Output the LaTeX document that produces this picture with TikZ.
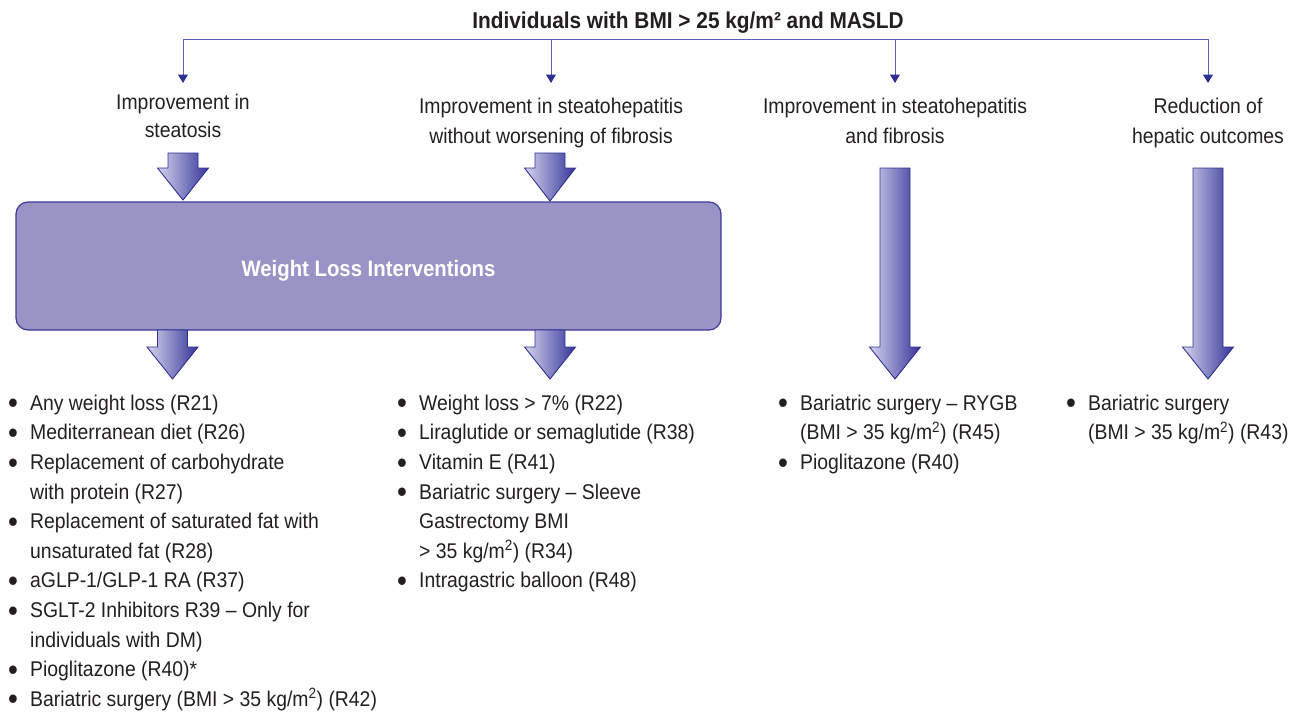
\documentclass[tikz,border=0pt]{standalone}
\usepackage{fontspec}
\setmainfont{Liberation Sans}[FakeStretch=0.91]
\usetikzlibrary{arrows.meta}
\definecolor{txt}{HTML}{231F20}
\definecolor{boxfill}{HTML}{9A94C6}
\definecolor{boxline}{HTML}{3C3C96}
\definecolor{linec}{HTML}{5D5DB3}
\definecolor{tipc}{HTML}{2E3192}
\definecolor{arrl}{HTML}{D6D4EC}
\definecolor{arrd}{HTML}{34349A}
\newlength\bulw \setlength\bulw{22.15pt}
\newcommand\bi{\par\noindent\hangindent=\bulw\hangafter=1\makebox[\bulw][l]{\raisebox{-3.6pt}{\fontsize{31}{31}\selectfont\textbullet}}}
\newcommand\nl{\break}
\newenvironment{blist}[1]{\begin{minipage}[t]{#1}\raggedright\fontsize{21.3}{29.6}\selectfont}{\end{minipage}}
\newcommand\blkarrow[4]{% cx, top, neck, tip
  \shadedraw[blk] (#1-15,#2) -- (#1+15,#2) -- (#1+15,#3) -- (#1+25.5,#3) -- (#1,#4)
    -- (#1-25.5,#3) -- (#1-15,#3) -- cycle;}
\tikzset{
  head/.style={text=txt, inner sep=0pt, align=center, font=\fontsize{21.3}{30}\selectfont},
  lst/.style={text=txt, inner sep=0pt, anchor=base west},
  blk/.style={draw=tipc, line width=0.9pt, left color=arrl, right color=arrd, line join=miter},
  conn/.style={draw=linec, line width=1pt},
  tipped/.style={conn, -{Triangle[width=10pt,length=8.5pt,color=tipc]}},
}
\begin{document}
\begin{tikzpicture}[x=1pt,y=-1pt]
\useasboundingbox (0,0) rectangle (1304,712);
% title
\node[font=\bfseries\fontsize{22.9}{27}\selectfont, text=txt, anchor=base, inner sep=0pt] (title) at (688,28) {Individuals with BMI > 25 kg/m² and MASLD};
% bracket
\coordinate (b1) at (183,39);
\coordinate (b2) at (551,39);
\coordinate (b3) at (895,39);
\coordinate (b4) at (1208,39);
\coordinate (t1) at (183,83);
\coordinate (t2) at (551,83);
\coordinate (t3) at (895,83);
\coordinate (t4) at (1208,83);
\draw[conn] (b1) -- (b4);
\draw[tipped] (b1) -- (t1);
\draw[tipped] (b2) -- (t2);
\draw[tipped] (b3) -- (t3);
\draw[tipped] (b4) -- (t4);
% headers (anchor base = last line baseline)
\node[head, anchor=base, font=\fontsize{21.3}{28}\selectfont] (h1) at (183,137) {Improvement in\\steatosis};
\node[head, anchor=base] (h2) at (551,143) {Improvement in steatohepatitis\\without worsening of fibrosis};
\node[head, anchor=base] (h3) at (895,143) {Improvement in steatohepatitis\\and fibrosis};
\node[head, anchor=base] (h4) at (1208,143) {Reduction of\\hepatic outcomes};
% box
\node[draw=boxline, fill=boxfill, line width=1.2pt, rounded corners=12pt,
      minimum width=705pt, minimum height=128pt, inner sep=0pt,
      text height=21.4pt, text depth=0pt, text=white,
      font=\bfseries\fontsize{22.35}{26}\selectfont] (wl) at (368.5,266) {Weight Loss Interventions};
% block arrows
\blkarrow{183}{153}{168}{200}
\blkarrow{550}{153}{168}{201}
\blkarrow{172.5}{330}{347}{379}
\blkarrow{550}{330}{347}{379}
\blkarrow{895}{168}{347}{379}
\blkarrow{1208}{168}{347}{379}
% lists
\node[lst] (l1) at (7.85,410.2) {\begin{blist}{420pt}%
\bi Any weight loss (R21)
\bi Mediterranean diet (R26)
\bi Replacement of carbohydrate\nl with protein (R27)
\bi Replacement of saturated fat with\nl unsaturated fat (R28)
\bi aGLP-1/GLP-1 RA (R37)
\bi SGLT-2 Inhibitors R39 – Only for\nl individuals with DM)
\bi Pioglitazone (R40)*
\bi Bariatric surgery (BMI > 35 kg/m\textsuperscript{2}) (R42)\end{blist}};
\node[lst] (l2) at (396.85,410.2) {\begin{blist}{360pt}%
\bi Weight loss > 7\% (R22)
\bi Liraglutide or semaglutide (R38)
\bi Vitamin E (R41)
\bi Bariatric surgery – Sleeve\nl Gastrectomy BMI\nl > 35 kg/m\textsuperscript{2}) (R34)
\bi Intragastric balloon (R48)\end{blist}};
\node[lst] (l3) at (777.85,410.2) {\begin{blist}{280pt}%
\bi Bariatric surgery – RYGB\nl (BMI > 35 kg/m\textsuperscript{2}) (R45)
\bi Pioglitazone (R40)\end{blist}};
\node[lst] (l4) at (1065.85,410.2) {\begin{blist}{236pt}%
\bi Bariatric surgery\nl (BMI > 35 kg/m\textsuperscript{2}) (R43)\end{blist}};
\end{tikzpicture}
\end{document}
